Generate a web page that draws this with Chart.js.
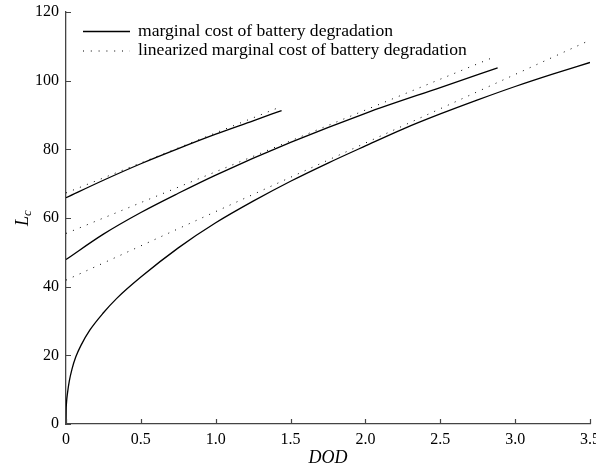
<!DOCTYPE html>
<html>
<head>
<meta charset="utf-8">
<script src="https://cdn.jsdelivr.net/npm/chart.js@4/dist/chart.umd.min.js"></script>
<style>
  html, body { margin: 0; padding: 0; background: #fff; overflow: hidden; }
  #wrap { width: 596px; height: 465px; overflow: hidden; }
</style>
</head>
<body>
<div id="wrap"><canvas id="myChart" width="620" height="465"></canvas></div>
<script>
// values
var dod1 = [0, 0.001, 0.003, 0.01, 0.022, 0.04, 0.065, 0.1, 0.16, 0.25, 0.339, 0.5, 0.75, 1, 1.25, 1.5, 1.75, 2, 2.25, 2.5, 2.75, 3, 3.25, 3.5]
var cost1 = [0, 4, 6, 9, 12.5, 16, 19.5, 22.9, 27.4, 32.4, 36.6, 42.8, 51.3, 58.6, 64.9, 70.7, 76, 81, 85.9, 90.3, 94.4, 98.3, 101.9, 105.3]

var dod2 = [0, 0.25, 0.5, 0.75, 1, 1.5, 2, 2.5, 2.883]
var cost2 = [47.9, 55.3, 61.6, 67.2, 72.5, 82, 90.5, 98, 103.7]

var dod3 = [0, 0.25, 0.5, 0.75, 1, 1.25, 1.44]
var cost3 = [65.9, 71.0, 75.8, 80.2, 84.4, 88.3, 91.3]

// linearized lines, end points
var linDod1 = [0, 3.5]
var linCost1 = [41.9, 111.8]
var linDod2 = [0, 2.86]
var linCost2 = [55.5, 106.9]
var linDod3 = [0, 1.44]
var linCost3 = [67.3, 92.5]

var yTicks = [0, 20, 40, 60, 80, 100, 120]
var xTicks = [0, 0.5, 1, 1.5, 2, 2.5, 3, 3.5]

var legendLabels = ['marginal cost of battery degradation', 'linearized marginal cost of battery degradation']

var FONT = "'Liberation Serif', 'DejaVu Serif', serif"

function pts(xs, ys) {
  var out = []
  for (var i = 0; i < xs.length; i++) out.push({x: xs[i], y: ys[i]})
  return out
}

function solid(xs, ys) {
  return {
    data: pts(xs, ys), showLine: true, borderColor: '#000', borderWidth: 1.3,
    pointRadius: 0, cubicInterpolationMode: 'monotone', fill: false
  }
}
function dotted(xs, ys) {
  return {
    data: pts(xs, ys), showLine: true, borderColor: '#000', borderWidth: 1,
    borderDash: [1, 6.5], pointRadius: 0, fill: false
  }
}

// inward ticks, legend box and the y title
var extras = {
  id: 'extras',
  afterDraw: function(chart) {
    var ctx = chart.ctx
    var xs = chart.scales.x, ys = chart.scales.y
    var area = chart.chartArea
    ctx.save()
    ctx.strokeStyle = '#444'
    ctx.lineWidth = 1.2
    ctx.beginPath()
    xTicks.forEach(function(v) {
      var px = Math.round(xs.getPixelForValue(v)) + 0.5
      ctx.moveTo(px, area.bottom)
      ctx.lineTo(px, area.bottom - 5)
    })
    yTicks.forEach(function(v) {
      var py = Math.round(ys.getPixelForValue(v)) + 0.5
      ctx.moveTo(area.left, py)
      ctx.lineTo(area.left + 5, py)
    })
    ctx.stroke()

    // legend
    ctx.strokeStyle = '#000'
    ctx.fillStyle = '#000'
    ctx.font = '16.5px ' + FONT
    ctx.textBaseline = 'middle'
    var lx = 83, ly = 31.5, gap = 19.5
    var sx = 255 / ctx.measureText(legendLabels[0]).width
    ctx.lineWidth = 1.3
    ctx.beginPath(); ctx.moveTo(lx, ly); ctx.lineTo(lx + 47, ly); ctx.stroke()
    ctx.lineWidth = 1
    ctx.setLineDash([1, 6.8])
    ctx.beginPath(); ctx.moveTo(lx, ly + gap); ctx.lineTo(lx + 47, ly + gap); ctx.stroke()
    ctx.setLineDash([])
    ctx.save()
    ctx.translate(lx + 55, 0)
    ctx.scale(sx, 1)
    ctx.fillText(legendLabels[0], 0, ly)
    ctx.fillText(legendLabels[1], 0, ly + gap)
    ctx.restore()

    // y title L_c
    ctx.translate(23, 218)
    ctx.rotate(-Math.PI / 2)
    ctx.textAlign = 'left'
    ctx.textBaseline = 'alphabetic'
    ctx.font = 'italic 18px ' + FONT
    var w = ctx.measureText('L').width
    ctx.font = 'italic 13px ' + FONT
    var w2 = ctx.measureText('c').width
    var start = -(w + w2) / 2
    ctx.font = 'italic 18px ' + FONT
    ctx.fillText('L', start, 5)
    ctx.font = 'italic 13px ' + FONT
    ctx.fillText('c', start + w, 8)
    ctx.restore()
  }
}

var ctx = document.getElementById('myChart').getContext('2d')
var chart = new Chart(ctx, {
  type: 'scatter',
  data: {
    datasets: [
      solid(dod1, cost1), solid(dod2, cost2), solid(dod3, cost3),
      dotted(linDod1, linCost1), dotted(linDod2, linCost2), dotted(linDod3, linCost3)
    ]
  },
  options: {
    responsive: false,
    animation: false,
    layout: { padding: { top: 12, right: 30, bottom: 0, left: 0 } },
    plugins: { legend: { display: false }, tooltip: { enabled: false } },
    scales: {
      x: {
        type: 'linear', min: 0, max: 3.5,
        afterBuildTicks: function(s) { s.ticks = xTicks.map(function(v) { return {value: v} }) },
        afterFit: function(s) { s.height = 41 },
        grid: { display: false },
        border: { display: true, color: '#444', width: 1.3 },
        ticks: { color: '#000', padding: -2, maxRotation: 0, font: { family: FONT, size: 16 } },
        title: { display: true, text: 'DOD', color: '#000', padding: { top: 0, bottom: -4 },
                 font: { family: FONT, size: 18, style: 'italic' } }
      },
      y: {
        type: 'linear', min: 0, max: 120,
        afterBuildTicks: function(s) { s.ticks = yTicks.map(function(v) { return {value: v} }) },
        afterFit: function(s) { s.width = 66 },
        grid: { display: false },
        border: { display: true, color: '#444', width: 1.3 },
        ticks: { color: '#000', padding: -1, font: { family: FONT, size: 16 } },
        title: { display: false }
      }
    }
  },
  plugins: [extras]
})
</script>
</body>
</html>
